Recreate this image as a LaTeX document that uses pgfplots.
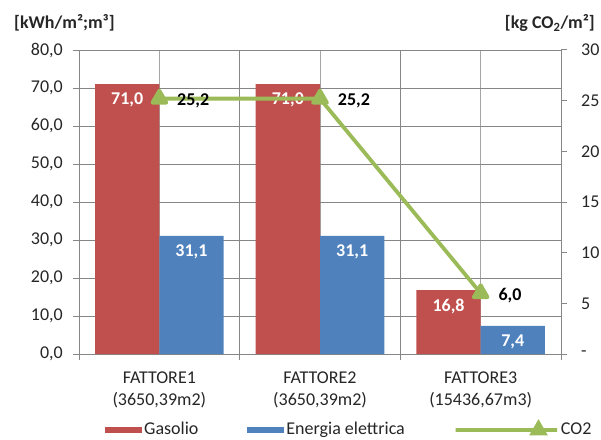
\documentclass[border=0pt]{standalone}
\usepackage{fontspec}
\setmainfont{Carlito}
\usepackage{pgfplots}
\pgfplotsset{compat=1.18}

\definecolor{gasred}{RGB}{192,80,77}
\definecolor{elblue}{RGB}{79,129,189}
\definecolor{cogreen}{RGB}{155,187,89}
\definecolor{gridgray}{RGB}{134,134,134}
\definecolor{midgray}{RGB}{165,165,165}

\newcommand{\chartfont}{\fontsize{18pt}{22pt}\selectfont}

\pgfplotsset{
  base/.style={
    at={(79pt,85pt)}, anchor=south west,
    scale only axis, width=482pt, height=304pt,
    xmin=0.5, xmax=3.5,
    tick align=outside,
    major tick length=6pt, minor tick length=6pt,
    every tick/.style={gridgray, line width=1pt},
    axis line style={gridgray, line width=1pt},
    ticklabel style={font=\chartfont, text=black!85},
    /pgf/number format/assume math mode=true,
  },
  barlegend/.style={
    legend image code/.code={\fill[#1] (0pt,-3pt) rectangle (37pt,3pt);}
  },
  co2legend/.style={
    cogreen, line width=3.8pt, mark=triangle*, mark size=7pt,
    mark options={draw=none, fill=cogreen},
    legend image code/.code={\draw[mark indices={2},#1] plot coordinates {(0pt,0pt) (18.5pt,0pt) (37pt,0pt)};}
  },
}

\begin{document}
\chartfont
\begin{tikzpicture}

% bars: left axis
\begin{axis}[base,
  ybar=0pt, bar width=0.4,
  ymin=0, ymax=80,
  ytick={0,10,...,80},
  yticklabel style={xshift=-4pt, /pgf/number format/.cd, fixed, fixed zerofill, precision=1, use comma},
  axis x line*=bottom, axis y line*=left,
  xtick={1,2,3},
  xticklabels={{FATTORE1\\(3650,39m2)},{FATTORE2\\(3650,39m2)},{FATTORE3\\(15436,67m3)}},
  xticklabel style={align=center, yshift=-6pt},
  major x tick style={draw=none},
  minor xtick={0.5,1.5,2.5,3.5},
  xmajorgrids, xminorgrids, ymajorgrids,
  major x grid style={midgray, line width=1pt},
  minor x grid style={gridgray, line width=1pt},
  major y grid style={gridgray, line width=1pt},
  legend style={draw=none, fill=none, at={(0.0477,-0.25)}, anchor=west,
    legend columns=-1, font=\chartfont, text=black!85,
    /tikz/every even column/.append style={column sep=47pt}},
  nodes near coords={\pgfmathprintnumber[fixed, fixed zerofill, precision=1, use comma, assume math mode=true]{\pgfplotspointmeta}},
  nodes near coords style={font=\chartfont\bfseries, text=white, anchor=center, yshift=-16pt},
]
\addplot[fill=gasred, draw=none, barlegend]
  coordinates {(1,71.0) (2,71.0) (3,16.8)};
\addlegendentry{Gasolio}
\addplot[fill=elblue, draw=none, barlegend]
  coordinates {(1,31.1) (2,31.1) (3,7.4)};
\addlegendentry{Energia elettrica}
\addlegendimage{co2legend}
\addlegendentry{CO2}
\end{axis}

% CO2 line: right axis
\begin{axis}[base,
  ymin=0, ymax=30,
  ytick={0,5,...,30},
  yticklabels={-,5,10,15,20,25,30},
  yticklabel style={xshift=8pt},
  axis x line=none, axis y line*=right,
  nodes near coords={\pgfmathprintnumber[fixed, fixed zerofill, precision=1, use comma, assume math mode=true]{\pgfplotspointmeta}},
  nodes near coords style={font=\chartfont\bfseries, text=black, anchor=west, xshift=10pt, yshift=-2pt},
]
\addplot[cogreen, line width=3.8pt, line join=round, mark=triangle*, mark size=8pt,
  mark options={draw=none, fill=cogreen}]
  coordinates {(1,25.2) (2,25.2) (3,6.0)};
\end{axis}

\node[anchor=west, font=\chartfont\bfseries, text=black!85] at (8pt,416pt) {[kWh/m²;m³]};
\node[anchor=east, font=\chartfont\bfseries, text=black!85] at (601pt,416pt) {[kg CO\textsubscript{2}/m²]};

\pgfresetboundingbox
\path[use as bounding box] (0pt,0pt) rectangle (601pt,439pt);
\end{tikzpicture}
\end{document}
